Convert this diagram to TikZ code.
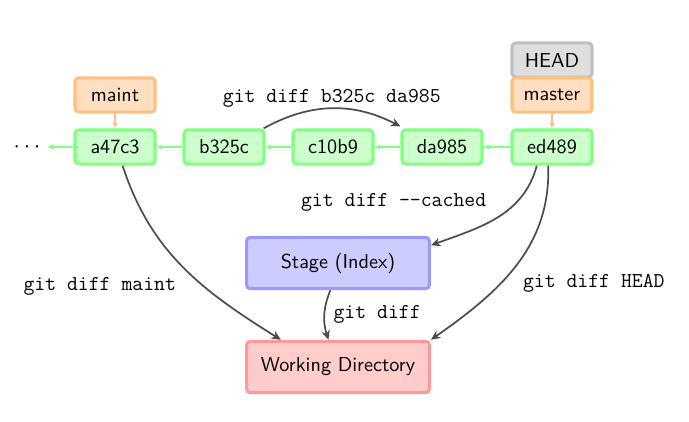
\documentclass[tikz,border=0pt]{standalone}
\usepackage{tikz}
\usetikzlibrary{arrows.meta}

\begin{document}
\begin{tikzpicture}[
  x=0.525pt, y=-0.525pt,
  font=\sffamily\fontsize{10.6}{13}\selectfont,
  commit/.style={
    draw=green!50,
    fill=green!20,
    rounded corners=2pt,
    line width=1.6pt,
    minimum width=42pt,
    minimum height=18pt,
    inner sep=2pt
  },
  branch/.style={
    draw=orange!50,
    fill=orange!25,
    rounded corners=2pt,
    line width=1.6pt,
    minimum width=42pt,
    minimum height=18pt,
    inner sep=2pt
  },
  headbox/.style={
    draw=black!25,
    fill=black!13,
    rounded corners=2pt,
    line width=1.6pt,
    minimum width=42pt,
    minimum height=18pt,
    inner sep=2pt
  },
  stagebox/.style={
    draw=blue!40,
    fill=blue!20,
    rounded corners=2pt,
    line width=1.6pt,
    minimum width=96pt,
    minimum height=27pt
  },
  workbox/.style={
    draw=red!40,
    fill=red!20,
    rounded corners=2pt,
    line width=1.6pt,
    minimum width=96pt,
    minimum height=27pt
  },
  parent/.style={-{Latex[length=3pt,width=3pt]}, line width=0.8pt, draw=green!50},
  ref/.style={-{Latex[length=3pt,width=3pt]}, line width=0.8pt, draw=orange!50},
  diff/.style={-{Stealth[length=5pt,width=4.5pt]}, line width=0.9pt, draw=black!70},
  cmd/.style={font=\ttfamily\fontsize{11.1}{13}\selectfont}
]
\useasboundingbox (0,0) rectangle (689,422);

% commits
\node[font=\large] (dots) at (27,147) {$\cdots$};
\node[commit] (a47c3) at (115,147) {a47c3};
\node[commit] (b325c) at (224,147) {b325c};
\node[commit] (c10b9) at (333,147) {c10b9};
\node[commit] (da985) at (442,147) {da985};
\node[commit] (ed489) at (552,147) {ed489};

% refs
\node[branch] (maint) at (115,95) {maint};
\node[headbox] (head) at (552,60) {HEAD};
\node[branch] (master) at (552,95) {master};

% trees
\node[stagebox] (stage) at (338,263) {Stage (Index)};
\node[workbox] (work) at (338,367) {Working Directory};

\draw[parent] (a47c3) -- (dots);
\draw[parent] (b325c) -- (a47c3);
\draw[parent] (c10b9) -- (b325c);
\draw[parent] (da985) -- (c10b9);
\draw[parent] (ed489) -- (da985);
\draw[ref] (maint) -- (a47c3);
\draw[ref] (master) -- (ed489);

\draw[diff] ([xshift=-1pt]b325c.north east) to[bend left=28]
  node[cmd, above=-3pt] {git diff b325c da985} ([yshift=1pt]da985.north west);
\draw[diff] ([xshift=-8pt]ed489.south) to[out=-105, in=20]
  node[cmd, pos=0.3, anchor=south east, xshift=-12.5pt, yshift=-9pt] {git diff --cached}
  ([yshift=-5pt]stage.north east);
\draw[diff] ([xshift=-2pt]ed489.south) to[out=-88, in=35]
  node[cmd, pos=0.5, anchor=west, xshift=0pt, yshift=-9pt] {git diff HEAD} (work.north east);
\draw[diff] ([xshift=4pt]a47c3.south) to[out=-72, in=148]
  node[cmd, pos=0.5, anchor=east, xshift=0pt, yshift=-10pt] {git diff maint} ([xshift=-30pt]work.north);
\draw[diff] ([xshift=-4pt]stage.south) to[bend right=20]
  node[cmd, anchor=west, xshift=1pt] {git diff} ([xshift=-5pt]work.north);

\end{tikzpicture}
\end{document}
